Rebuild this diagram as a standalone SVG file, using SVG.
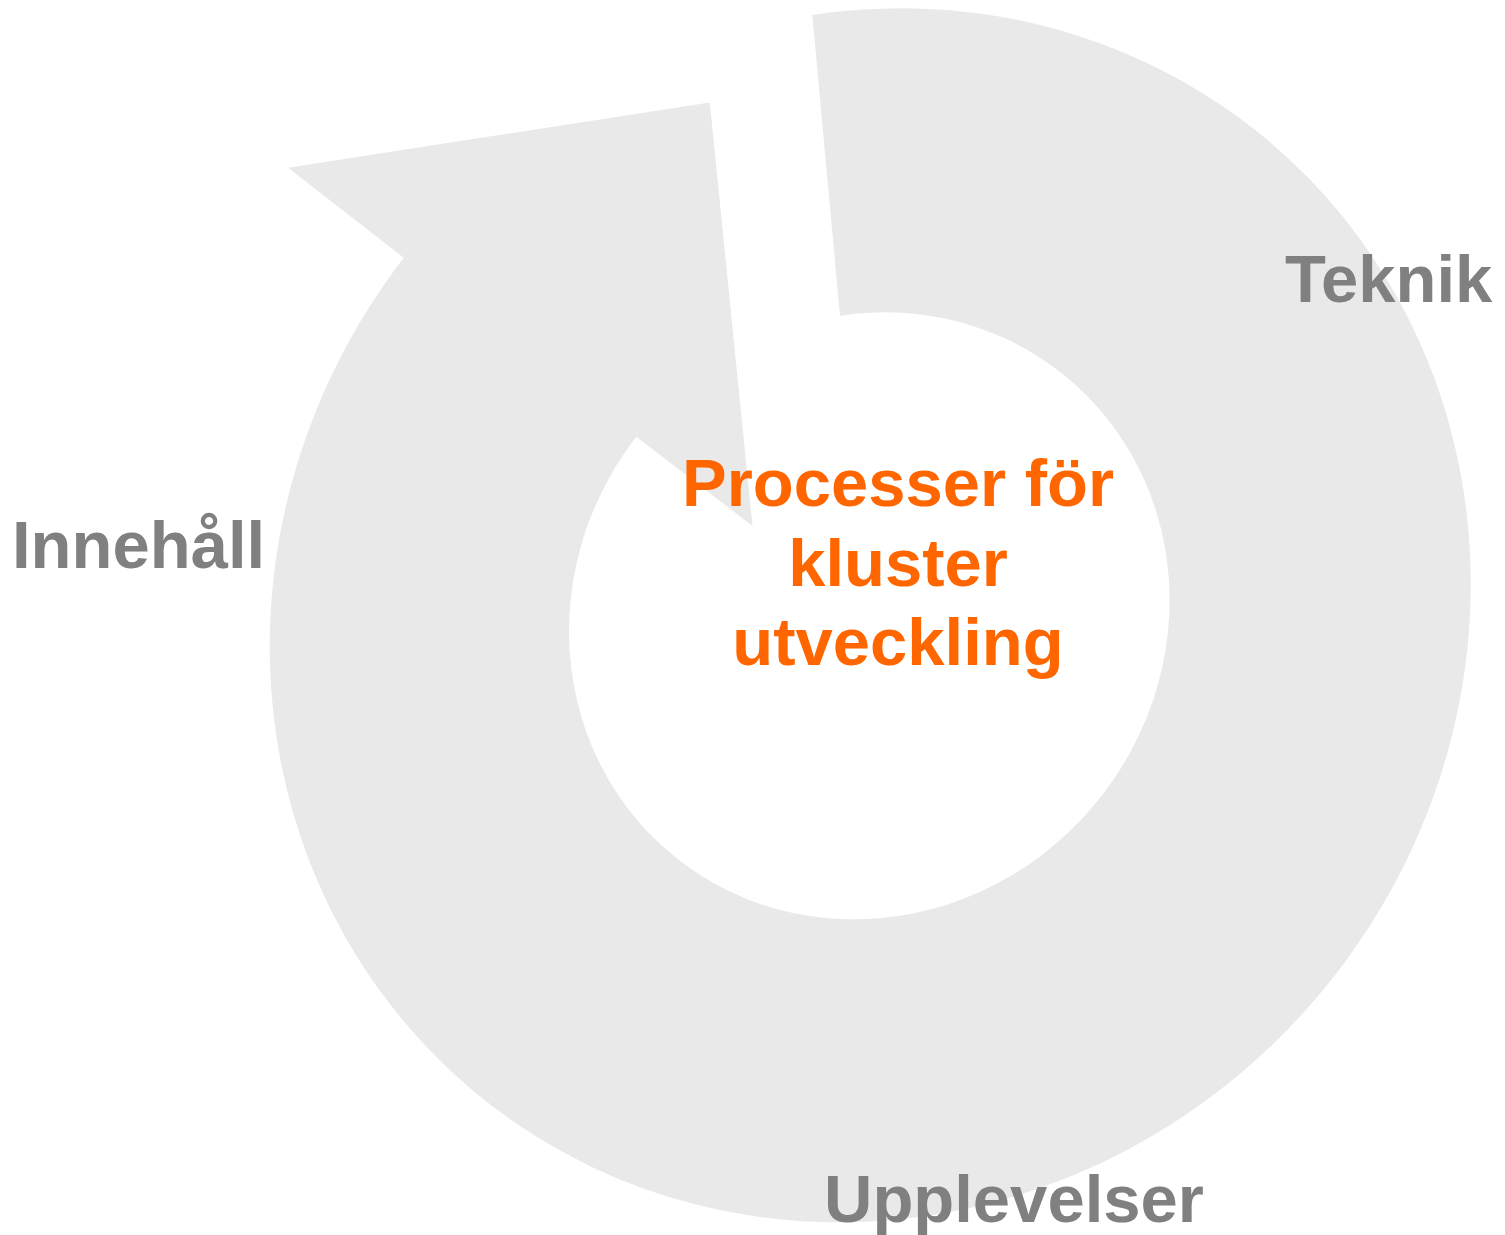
<svg xmlns="http://www.w3.org/2000/svg" width="1505" height="1235" viewBox="0 0 1505 1235">
  <style>
    .shape { fill: #e9e9e9; stroke: none; }
    .label { font-family: "Liberation Sans", Arial, sans-serif; font-weight: bold; font-size: 67px; fill: #808080; }
    .center { font-family: "Liberation Sans", Arial, sans-serif; font-weight: bold; font-size: 67px; fill: #ff6600; text-anchor: middle; }
  </style>
  <rect width="1505" height="1235" fill="#ffffff"/>
  <g id="cycle-arrow">
    <path class="shape" d="M 812.3 15 A 619.4 587.7 -50.9 1 1 403.8 257.8 L 288 167.7 L 709.8 102.4 L 752.5 526 L 636.3 436.7 A 309.7 293.9 -50.9 1 0 840 315.7 Z"/>
  </g>
  <g id="connectors"></g>
  <g id="label-teknik">
    <text class="label" x="1285" y="302">Teknik</text>
  </g>
  <g id="label-innehall">
    <text class="label" x="12" y="568">Innehåll</text>
  </g>
  <g id="label-upplevelser">
    <text class="label" x="824" y="1222">Upplevelser</text>
  </g>
  <g id="center-title">
    <text class="center" x="898" y="506">Processer för</text>
    <text class="center" x="898" y="586">kluster</text>
    <text class="center" x="898" y="665">utveckling</text>
  </g>
</svg>
